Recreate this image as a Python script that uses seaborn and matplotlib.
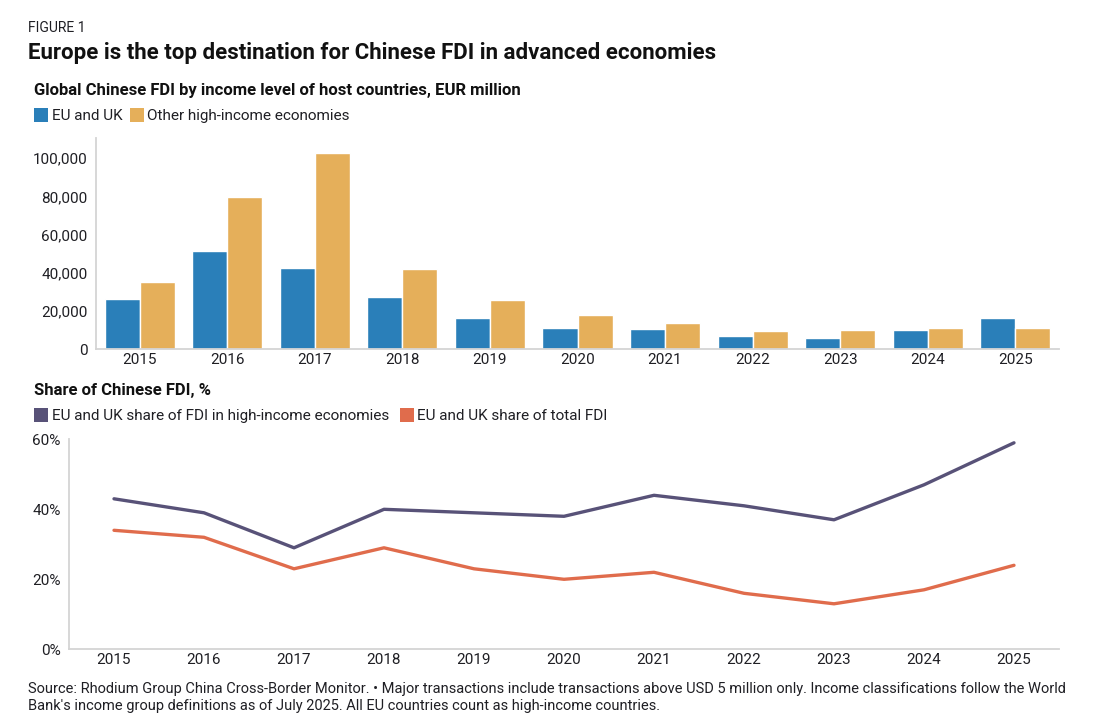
import matplotlib
matplotlib.use("Agg")
import matplotlib.pyplot as plt
import seaborn as sns
import pandas as pd
from matplotlib.patches import Rectangle
from matplotlib.ticker import FuncFormatter

# ---------------- data ----------------
years = [2015, 2016, 2017, 2018, 2019, 2020, 2021, 2022, 2023, 2024, 2025]
eu_uk = [26500, 51600, 42400, 27500, 16500, 11000, 10600, 6800, 5800, 9900, 16500]
other_high = [35200, 79600, 102600, 42000, 25800, 17900, 13800, 9600, 10100, 11000, 11300]
share_high = [43, 39, 29, 40, 39, 38, 44, 41, 37, 47, 59]
share_total = [34, 32, 23, 29, 23, 20, 22, 16, 13, 17, 24]

bar_series = ["EU and UK", "Other high-income economies"]
line_series = ["EU and UK share of FDI in high-income economies", "EU and UK share of total FDI"]
bar_colors = {"EU and UK": "#2A7FB9", "Other high-income economies": "#E5AF5A"}
line_colors = {line_series[0]: "#585278", line_series[1]: "#E06C4C"}

title_fig = "FIGURE 1"
title_main = "Europe is the top destination for Chinese FDI in advanced economies"
sub1 = "Global Chinese FDI by income level of host countries, EUR million"
sub2 = "Share of Chinese FDI, %"
footer_lines = [
    "Source: Rhodium Group China Cross-Border Monitor. \u2022 Major transactions include transactions above USD 5 million only. Income classifications follow the World",
    "Bank's income group definitions as of July 2025. All EU countries count as high-income countries.",
]

# ---------------- frames ----------------
bar_df = pd.DataFrame({
    "year": [str(y) for y in years] * 2,
    "value": eu_uk + other_high,
    "series": [bar_series[0]] * len(years) + [bar_series[1]] * len(years),
})
line_df = pd.DataFrame({
    "year": years * 2,
    "value": share_high + share_total,
    "series": [line_series[0]] * len(years) + [line_series[1]] * len(years),
})

sns.set_theme(style="white")
plt.rcParams["font.family"] = ["Roboto", "DejaVu Sans"]
TXT = "#1f1f24"
SPINE = "#d4d4d4"

W, H = 1118, 720
fig = plt.figure(figsize=(W / 100, H / 100), dpi=100)

def fx(px):
    return px / W

def fy(py):
    return 1 - py / H

ax1 = fig.add_axes([fx(96), fy(349.3), fx(1059 - 96), (349.3 - 138) / H])
ax2 = fig.add_axes([fx(69), fy(649.3), fx(1059 - 69), (649.3 - 439.3) / H])

# ---------------- bar chart ----------------
sns.barplot(data=bar_df, x="year", y="value", hue="series", hue_order=bar_series,
            palette=bar_colors, saturation=1, width=0.8, edgecolor="white", linewidth=1.0,
            ax=ax1, legend=False)
ax1.set_ylim(0, 110500)
ax1.set_xlim(-0.5, len(years) - 0.5)
ax1.set_yticks([0, 20000, 40000, 60000, 80000, 100000])
ax1.yaxis.set_major_formatter(FuncFormatter(lambda v, p: f"{int(v):,}"))
ax1.set_xlabel("")
ax1.set_ylabel("")

# ---------------- line chart ----------------
sns.lineplot(data=line_df, x="year", y="value", hue="series", hue_order=line_series,
             palette=line_colors, linewidth=2.4, ax=ax2, legend=False)
ax2.set_ylim(0, 60)
ax2.set_xlim(years[0] - 0.5, years[-1] + 0.5)
ax2.set_xticks(years)
ax2.set_xticklabels([str(y) for y in years])
ax2.set_yticks([0, 20, 40, 60])
ax2.yaxis.set_major_formatter(FuncFormatter(lambda v, p: f"{int(v)}%"))
ax2.set_xlabel("")
ax2.set_ylabel("")

for ax in (ax1, ax2):
    for s in ("top", "right"):
        ax.spines[s].set_visible(False)
    for s in ("left", "bottom"):
        ax.spines[s].set_color(SPINE)
        ax.spines[s].set_linewidth(1.3)
    ax.tick_params(axis="both", length=0, labelsize=11, labelcolor=TXT)
    ax.tick_params(axis="y", pad=6)
    ax.tick_params(axis="x", pad=3)
    ax.grid(False)

# ---------------- text ----------------
fig.text(fx(28), fy(32.3), title_fig, fontsize=10, color=TXT, va="baseline")
fig.text(fx(28), fy(59.5), title_main, fontsize=16, fontweight="bold", color="#111111", va="baseline")
fig.text(fx(34.5), fy(95.5), sub1, fontsize=12, fontweight="bold", color="#111111", va="baseline")
fig.text(fx(34.5), fy(394.5), sub2, fontsize=12, fontweight="bold", color="#111111", va="baseline")

def legend_item(x_sq, y_top, label, color, x_text, y_base):
    fig.add_artist(Rectangle((fx(x_sq), fy(y_top + 14)), fx(13.5), 14 / H,
                             transform=fig.transFigure, facecolor=color, edgecolor="none"))
    fig.text(fx(x_text), fy(y_base), label, fontsize=11, color=TXT, va="baseline")

legend_item(34, 108, bar_series[0], bar_colors[bar_series[0]], 51.8, 120)
legend_item(130.4, 108, bar_series[1], bar_colors[bar_series[1]], 147, 120)
legend_item(34, 408.3, line_series[0], line_colors[line_series[0]], 51.8, 420)
legend_item(400, 408.3, line_series[1], line_colors[line_series[1]], 417, 420)

fig.text(fx(28), fy(693.5), footer_lines[0], fontsize=10.5, color=TXT, va="baseline")
fig.text(fx(28), fy(710), footer_lines[1], fontsize=10.5, color=TXT, va="baseline")

fig.savefig("out.png", dpi=100)
